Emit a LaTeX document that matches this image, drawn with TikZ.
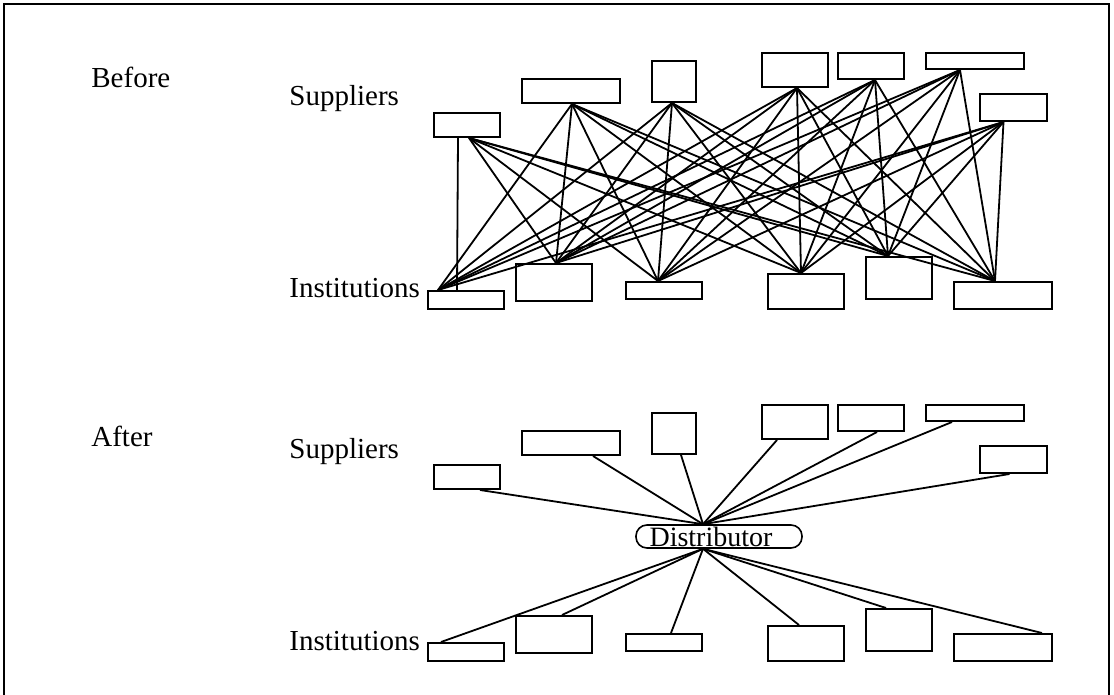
\documentclass[tikz,border=0pt]{standalone}
\usepackage{fontspec}
\setmainfont{Liberation Serif}
\usepackage{xcolor}
\usetikzlibrary{shapes}

\tikzset{
  box/.style 2 args={draw=linecolor,line width=1pt,minimum width=#1*0.5pt,minimum height=#2*0.5pt,inner sep=0pt},
  wire/.style={draw=linecolor,line width=0.9pt},
  label/.style={anchor=base west,inner sep=0pt,font=\fontsize{14.5}{17}\selectfont}
}

\begin{document}
\begin{tikzpicture}[x=0.5pt,y=-0.5pt]
\definecolor{linecolor}{RGB}{0,0,0} % Definition of the line color
\useasboundingbox (0,0) rectangle (1114,695); % Size of the whole page
\draw[linecolor,line width=1pt] (4,700) -- (4,4) -- (1109,4) -- (1109,700); % Outer frame

% Before
\node[label] (before) at (91,88) {Before};
\node[label] (supA) at (289,106) {Suppliers};
\node[label] (instA) at (289,298) {Institutions};
\node[box={66}{24}] (s1) at (467,125) {}; % Supplier boxes
\node[box={98}{24}] (s2) at (571,91) {};
\node[box={44}{41}] (s3) at (674,81.5) {};
\node[box={66}{34}] (s4) at (795,70) {};
\node[box={66}{26}] (s5) at (871,66) {};
\node[box={98}{16}] (s6) at (975,61) {};
\node[box={67}{27}] (s7) at (1013.5,107.5) {};
\node[box={76}{18}] (i1) at (466,300) {}; % Institution boxes
\node[box={76}{37}] (i2) at (554,282.5) {};
\node[box={76}{17}] (i3) at (664,290.5) {};
\node[box={76}{35}] (i4) at (806,291.5) {};
\node[box={66}{42}] (i5) at (899,278) {};
\node[box={98}{27}] (i6) at (1003,295.5) {};
\coordinate (s1a) at ([xshift=1pt]s1.south); % Where the lines leave the suppliers
\coordinate (s2a) at ([xshift=0.5pt]s2.south);
\coordinate (s3a) at ([xshift=-1pt]s3.south);
\coordinate (s4a) at ([xshift=1pt]s4.south);
\coordinate (s5a) at ([xshift=2pt]s5.south);
\coordinate (s6a) at ([xshift=-7.5pt]s6.south);
\coordinate (s7a) at ([xshift=-5pt]s7.south);
\coordinate (i1a) at ([xshift=-14pt]i1.north); % Where the lines reach the institutions
\coordinate (i2a) at ([xshift=1pt]i2.north);
\coordinate (i3a) at ([xshift=-3pt]i3.north);
\coordinate (i4a) at ([xshift=-2.5pt]i4.north);
\coordinate (i5a) at ([xshift=-5.5pt]i5.north);
\coordinate (i6a) at ([xshift=-4pt]i6.north);
\foreach \s in {1,...,7}{\foreach \i in {1,...,6}{\ifnum\s\i=11 \else\draw[wire] (s\s a) -- (i\i a);\fi}} % Every supplier to every institution
\draw[wire] ([xshift=-4.5pt]s1.south) -- ([xshift=-4.5pt]i1.north); % The straight one

% After
\node[label] (after) at (91,446) {After};
\node[label] (supB) at (289,458) {Suppliers};
\node[label] (instB) at (289,650) {Institutions};
\node[box={66}{24}] (t1) at (467,477) {}; % Supplier boxes
\node[box={98}{24}] (t2) at (571,443) {};
\node[box={44}{41}] (t3) at (674,433.5) {};
\node[box={66}{34}] (t4) at (795,422) {};
\node[box={66}{26}] (t5) at (871,418) {};
\node[box={98}{16}] (t6) at (975,413) {};
\node[box={67}{27}] (t7) at (1013.5,459.5) {};
\node[box={76}{18}] (j1) at (466,652) {}; % Institution boxes
\node[box={76}{37}] (j2) at (554,634.5) {};
\node[box={76}{17}] (j3) at (664,642.5) {};
\node[box={76}{35}] (j4) at (806,643.5) {};
\node[box={66}{42}] (j5) at (899,630) {};
\node[box={98}{27}] (j6) at (1003,647.5) {};
\node[draw=linecolor,line width=0.8pt,rounded corners=5.5pt,minimum width=83pt,minimum height=11.5pt,inner sep=0pt,font=\fontsize{14}{16}\selectfont] (dist) at (719,536.5) {Distributor\kern8pt}; % The distributor in the middle
\coordinate (hubT) at ([xshift=-8pt]dist.north);
\coordinate (hubB) at ([xshift=-8pt]dist.south);
\draw[wire] ([xshift=6.5pt]t1.south) -- (hubT);
\draw[wire] ([xshift=11pt]t2.south) -- (hubT);
\draw[wire] ([xshift=3.5pt]t3.south) -- (hubT);
\draw[wire] ([xshift=-9pt]t4.south) -- (hubT);
\draw[wire] ([xshift=3pt]t5.south) -- (hubT);
\draw[wire] ([xshift=-11.5pt]t6.south) -- (hubT);
\draw[wire] ([xshift=-2pt]t7.south) -- (hubT);
\draw[wire] (hubB) -- ([xshift=-12.5pt]j1.north);
\draw[wire] (hubB) -- ([xshift=4pt]j2.north);
\draw[wire] (hubB) -- ([xshift=3.5pt]j3.north);
\draw[wire] (hubB) -- ([xshift=-3.5pt]j4.north);
\draw[wire] (hubB) -- ([xshift=-6.5pt]j5.north);
\draw[wire] (hubB) -- ([xshift=19.5pt]j6.north);

\end{tikzpicture}
\end{document}
